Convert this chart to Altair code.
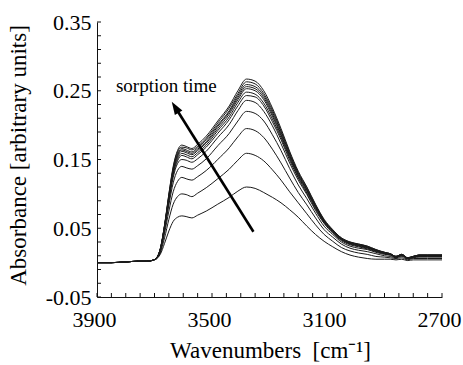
import altair as alt
import pandas as pd

# ---- data ----
wavenumber = [3900, 3850, 3800, 3760, 3730, 3710, 3695, 3680, 3665, 3650, 3635, 3620, 3605, 3590, 3570,
              3550, 3520, 3480, 3440, 3410, 3380, 3350, 3320, 3290, 3260, 3230, 3200, 3170, 3140, 3110,
              3080, 3050, 3020, 2990, 2960, 2930, 2900, 2880, 2860, 2840, 2820, 2800, 2780, 2750, 2700]

base = [0.000, 0.000, 0.001, 0.002, 0.002, 0.003]

t01 = base + [0.005, 0.012, 0.028, 0.046, 0.060, 0.066, 0.068, 0.067, 0.065, 0.069, 0.075, 0.085, 0.095, 0.104,
              0.110, 0.108, 0.102, 0.095, 0.087, 0.077, 0.066, 0.053, 0.041, 0.031, 0.023, 0.016, 0.011, 0.008,
              0.006, 0.005, 0.005, 0.005, 0.004, 0.005, 0.003, 0.004, 0.004, 0.004, 0.004]
t02 = base + [0.005, 0.014, 0.036, 0.063, 0.085, 0.096, 0.100, 0.099, 0.096, 0.101, 0.109, 0.122, 0.136, 0.149,
              0.159, 0.156, 0.148, 0.135, 0.120, 0.103, 0.087, 0.071, 0.055, 0.041, 0.031, 0.022, 0.017, 0.014,
              0.012, 0.009, 0.008, 0.007, 0.006, 0.007, 0.004, 0.006, 0.006, 0.006, 0.006]
t03 = base + [0.005, 0.016, 0.043, 0.075, 0.103, 0.118, 0.124, 0.122, 0.120, 0.125, 0.134, 0.150, 0.167, 0.183,
              0.195, 0.192, 0.182, 0.165, 0.145, 0.123, 0.102, 0.084, 0.065, 0.048, 0.037, 0.027, 0.021, 0.018,
              0.016, 0.013, 0.010, 0.009, 0.007, 0.009, 0.005, 0.007, 0.008, 0.008, 0.008]
t04 = base + [0.006, 0.018, 0.047, 0.084, 0.116, 0.134, 0.140, 0.138, 0.136, 0.141, 0.151, 0.170, 0.188, 0.206,
              0.220, 0.217, 0.206, 0.186, 0.163, 0.137, 0.113, 0.093, 0.072, 0.053, 0.041, 0.030, 0.024, 0.021,
              0.019, 0.015, 0.012, 0.011, 0.008, 0.010, 0.006, 0.008, 0.009, 0.009, 0.009]
t05 = base + [0.006, 0.018, 0.050, 0.089, 0.124, 0.144, 0.150, 0.149, 0.146, 0.151, 0.162, 0.182, 0.201, 0.221,
              0.236, 0.233, 0.220, 0.199, 0.173, 0.145, 0.120, 0.099, 0.076, 0.057, 0.043, 0.032, 0.026, 0.023,
              0.020, 0.016, 0.013, 0.011, 0.008, 0.011, 0.006, 0.008, 0.010, 0.010, 0.010]
t06 = base + [0.006, 0.019, 0.051, 0.092, 0.128, 0.148, 0.156, 0.154, 0.151, 0.157, 0.168, 0.188, 0.208, 0.228,
              0.243, 0.241, 0.228, 0.205, 0.179, 0.149, 0.123, 0.101, 0.078, 0.058, 0.044, 0.033, 0.027, 0.024,
              0.021, 0.017, 0.013, 0.012, 0.008, 0.011, 0.006, 0.008, 0.010, 0.010, 0.010]
t07 = base + [0.006, 0.019, 0.052, 0.094, 0.130, 0.151, 0.159, 0.157, 0.154, 0.160, 0.171, 0.192, 0.212, 0.233,
              0.248, 0.245, 0.232, 0.209, 0.182, 0.152, 0.125, 0.103, 0.080, 0.059, 0.045, 0.034, 0.028, 0.025,
              0.022, 0.017, 0.014, 0.012, 0.008, 0.011, 0.007, 0.008, 0.010, 0.010, 0.010]
t08 = base + [0.006, 0.019, 0.053, 0.095, 0.133, 0.154, 0.162, 0.160, 0.157, 0.163, 0.174, 0.195, 0.216, 0.237,
              0.253, 0.250, 0.237, 0.213, 0.185, 0.154, 0.127, 0.105, 0.081, 0.060, 0.046, 0.034, 0.028, 0.025,
              0.022, 0.018, 0.014, 0.012, 0.009, 0.011, 0.007, 0.009, 0.010, 0.010, 0.010]
t09 = base + [0.006, 0.019, 0.053, 0.096, 0.134, 0.156, 0.164, 0.162, 0.159, 0.165, 0.176, 0.198, 0.219, 0.240,
              0.256, 0.253, 0.240, 0.216, 0.187, 0.156, 0.128, 0.106, 0.082, 0.061, 0.046, 0.035, 0.029, 0.026,
              0.023, 0.018, 0.014, 0.012, 0.009, 0.012, 0.007, 0.009, 0.011, 0.011, 0.011]
t10 = base + [0.006, 0.020, 0.054, 0.097, 0.136, 0.158, 0.166, 0.164, 0.161, 0.167, 0.179, 0.200, 0.221, 0.243,
              0.259, 0.256, 0.243, 0.219, 0.190, 0.158, 0.130, 0.107, 0.083, 0.061, 0.047, 0.035, 0.029, 0.026,
              0.023, 0.018, 0.015, 0.013, 0.009, 0.012, 0.007, 0.009, 0.011, 0.011, 0.011]
t11 = base + [0.006, 0.020, 0.054, 0.099, 0.138, 0.161, 0.168, 0.167, 0.164, 0.169, 0.181, 0.203, 0.225, 0.246,
              0.263, 0.260, 0.246, 0.222, 0.192, 0.160, 0.131, 0.109, 0.084, 0.062, 0.047, 0.036, 0.030, 0.027,
              0.024, 0.019, 0.015, 0.013, 0.009, 0.012, 0.007, 0.009, 0.011, 0.011, 0.011]
t12 = base + [0.006, 0.020, 0.055, 0.100, 0.140, 0.163, 0.171, 0.169, 0.166, 0.172, 0.184, 0.206, 0.228, 0.250,
              0.267, 0.264, 0.250, 0.225, 0.195, 0.162, 0.133, 0.110, 0.085, 0.063, 0.048, 0.036, 0.030, 0.027,
              0.024, 0.019, 0.015, 0.013, 0.009, 0.012, 0.007, 0.009, 0.011, 0.011, 0.011]

spectra = {"t01": t01, "t02": t02, "t03": t03, "t04": t04, "t05": t05, "t06": t06,
           "t07": t07, "t08": t08, "t09": t09, "t10": t10, "t11": t11, "t12": t12}

x_label_values = [3900, 3500, 3100, 2700]
y_label_values = [-0.05, 0.05, 0.15, 0.25, 0.35]
x_minor_ticks = list(range(2700, 3901, 50))
y_minor_ticks = [-0.05, -0.03, -0.01, 0.01, 0.03, 0.05, 0.07, 0.09, 0.11, 0.13, 0.15, 0.17, 0.19,
                 0.21, 0.23, 0.25, 0.27, 0.29, 0.31, 0.33, 0.35]

arrow_x = [3356, 3629]
arrow_y = [0.045, 0.2267]
arrow_tip_x = [3640]
arrow_tip_y = [0.234]
annot_text = ["sorption time"]
annot_x = [3834]
annot_y = [0.2486]

x_title = "Wavenumbers\u00a0\u00a0[cm⁻¹]"
y_title = "Absorbance [arbitrary units]"

# ---- build tables (all layers share the same column names) ----
rows = []
for name, vals in spectra.items():
    for w, a in zip(wavenumber, vals):
        rows.append({"curve": name, "wn": w, "abs": a})
df = pd.DataFrame(rows)

FONT = "Liberation Serif"
xscale = alt.Scale(domain=[2700, 3900], reverse=True, nice=False, zero=False)
yscale = alt.Scale(domain=[-0.05, 0.35], nice=False, zero=False)

x_axis = alt.Axis(
    values=x_label_values, format="d", ticks=False, grid=False, domain=True,
    labelPadding=12, labelFlush=False, labelBaseline="top", labelOffset=-3,
    labelFont=FONT, labelFontSize=22, labelColor="#000",
    title=x_title, titleFont=FONT, titleFontSize=23, titleFontWeight="normal", titleColor="#000",
    titleX=173, titleY=60, titleBaseline="alphabetic", titleAlign="center")
y_axis = alt.Axis(
    values=y_label_values, ticks=False, grid=False, domain=True,
    labelPadding=6, labelFlush=False,
    labelFont=FONT, labelFontSize=22, labelColor="#000",
    labelExpr="datum.value < 0 ? '-' + format(-datum.value, '.2f') : format(datum.value, '.2f')",
    title=y_title, titleFont=FONT, titleFontSize=23, titleFontWeight="normal", titleColor="#000",
    titleX=-79, titleY=133, titleAngle=270, titleBaseline="middle", titleAlign="center")

lines = alt.Chart(df).mark_line(color="#1a1a1a", strokeWidth=1, interpolate="monotone").encode(
    x=alt.X("wn:Q", scale=xscale, axis=x_axis),
    y=alt.Y("abs:Q", scale=yscale, axis=y_axis),
    detail="curve:N")

ytick_df = pd.DataFrame({"abs": y_minor_ticks})
yticks = alt.Chart(ytick_df).mark_rule(color="#111", strokeWidth=1).encode(
    y=alt.Y("abs:Q"), x=alt.value(0), x2=alt.value(4))

xtick_df = pd.DataFrame({"wn": x_minor_ticks})
xticks = alt.Chart(xtick_df).mark_rule(color="#111", strokeWidth=1).encode(
    x=alt.X("wn:Q"), y=alt.value(275), y2=alt.value(271))

arrow_df = pd.DataFrame({"wn": arrow_x, "abs": arrow_y})
arrow = alt.Chart(arrow_df).mark_line(color="#000", strokeWidth=2.6).encode(
    x=alt.X("wn:Q"), y=alt.Y("abs:Q"))

tip_df = pd.DataFrame({"wn": arrow_tip_x, "abs": arrow_tip_y})
tip = alt.Chart(tip_df).mark_point(
    shape="M0,0 L0.34,1 L-0.34,1 Z", size=676, filled=True, color="#000", opacity=1,
    angle=328).encode(x=alt.X("wn:Q"), y=alt.Y("abs:Q"))

text_df = pd.DataFrame({"wn": annot_x, "abs": annot_y, "t": annot_text})
label = alt.Chart(text_df).mark_text(
    font=FONT, fontSize=19, color="#000", align="left", baseline="alphabetic").encode(
    x=alt.X("wn:Q"), y=alt.Y("abs:Q"), text="t:N")

chart = alt.layer(lines, yticks, xticks, arrow, tip, label).properties(
    width=345, height=275,
    autosize=alt.AutoSizeParams(type="none"),
    padding={"left": 97, "top": 22, "right": 21, "bottom": 68},
    background="white",
).configure_view(stroke=None).configure_axis(
    labelFont=FONT, titleFont=FONT, domainColor="#111", domainWidth=1,
)

chart.save("out.html", embed_options={"renderer": "svg", "actions": False})
